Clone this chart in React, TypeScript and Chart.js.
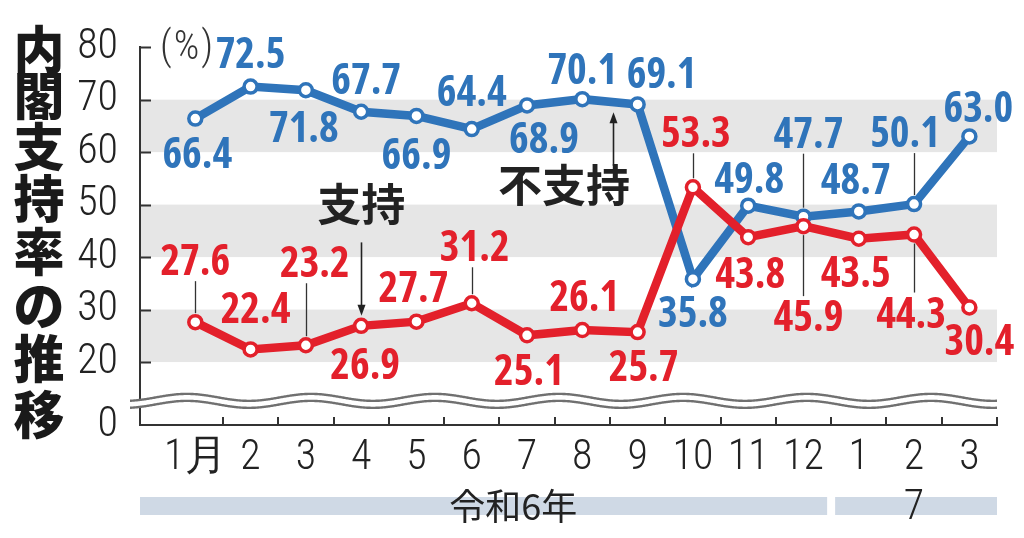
import React, { useEffect, useRef } from 'react';
import { Chart, registerables } from 'chart.js';

Chart.register(...registerables);

// ---- data ----
const categories = ['1月', '2', '3', '4', '5', '6', '7', '8', '9', '10', '11', '12', '1', '2', '3'];
const disapproval = [66.4, 72.5, 71.8, 67.7, 66.9, 64.4, 68.9, 70.1, 69.1, 35.8, 49.8, 47.7, 48.7, 50.1, 63.0];
const approval = [27.6, 22.4, 23.2, 26.9, 27.7, 31.2, 25.1, 26.1, 25.7, 53.3, 43.8, 45.9, 43.5, 44.3, 30.4];
const yTickValues = [20, 30, 40, 50, 60, 70, 80];
const yTickLabels = ['20', '30', '40', '50', '60', '70', '80'];
const yZeroLabel = '0';
const yearLabels = ['令和6年', '7'];
const titleText = '内閣支持率の推移';
const unitText = '(%)';
const seriesNames = ['支持', '不支持'];
const bandRanges: [number, number][] = [[20, 30], [40, 50], [60, 70]];

// ---- layout / style (not data) ----
const BLUE = '#2f74ba';
const RED = '#e3202b';
const INK = '#222222';
const AXISFONT = '"Roboto Condensed", "DejaVu Sans Condensed", sans-serif';
const LABELFONT = '"Open Sans", "Roboto Condensed", sans-serif';
const CJK = '"Noto Sans CJK JP", "Noto Sans CJK SC", sans-serif';
const Y_BREAK_MIN = 8; // axis break: "0" is drawn at this scale value
const X_MIN = -1;
const X_MAX = 14.5;

// label offsets in px relative to point (text centre)
const disapprovalLabelOffsets: [number, number][] = [
  [2, 34], [0, -34], [-2, 37], [5, -33], [0, 38], [0, -38], [17, 33], [0, -30],
  [24, -31], [0, 33], [1, -28], [5, -84], [-3, -32], [-9, -72], [9, -29],
];
const approvalLabelOffsets: [number, number][] = [
  [0, -62], [5, -41], [9, -83], [4, 38], [-3, -35], [3, -57], [2, 35], [2, -34],
  [6, 34], [3, -55], [2, 36], [5, 90], [-3, 33], [-3, 78], [10, 33],
];
const disapprovalLeaders = [11, 13];
const approvalLeaders = [0, 2, 5, 9, 11, 13];

const titleCenters = [50, 96, 147, 199, 252, 306, 359, 415];

function drawArrow(ctx: CanvasRenderingContext2D, x: number, y1: number, y2: number) {
  const dir = y2 > y1 ? 1 : -1;
  ctx.beginPath();
  ctx.moveTo(x, y1);
  ctx.lineTo(x, y2 - dir * 8);
  ctx.strokeStyle = INK;
  ctx.lineWidth = 1.6;
  ctx.stroke();
  ctx.beginPath();
  ctx.moveTo(x, y2);
  ctx.lineTo(x - 4, y2 - dir * 11);
  ctx.lineTo(x + 4, y2 - dir * 11);
  ctx.closePath();
  ctx.fillStyle = INK;
  ctx.fill();
}

const decorPlugin = {
  id: 'decor',
  beforeDraw(chart: any) {
    const { ctx, chartArea } = chart;
    const y = chart.scales.y;
    ctx.save();
    ctx.fillStyle = '#e6e6e6';
    for (const [lo, hi] of bandRanges) {
      const t = y.getPixelForValue(hi);
      const b = y.getPixelForValue(lo);
      ctx.fillRect(chartArea.left, t, chartArea.right - chartArea.left, b - t);
    }
    ctx.restore();
  },
  afterDraw(chart: any) {
    const { ctx, chartArea } = chart;
    const x = chart.scales.x;
    const y = chart.scales.y;
    ctx.save();

    // inner y tick marks
    ctx.strokeStyle = '#333';
    ctx.lineWidth = 2;
    for (const v of yTickValues) {
      const py = Math.round(y.getPixelForValue(v)) + 0.5;
      ctx.beginPath();
      ctx.moveTo(chartArea.left, py);
      ctx.lineTo(chartArea.left + 11, py);
      ctx.stroke();
    }
    // inner x tick marks at category boundaries
    for (let i = 0; i < categories.length; i++) {
      const px = Math.round(x.getPixelForValue(i + 0.5));
      ctx.beginPath();
      ctx.moveTo(px, chartArea.bottom);
      ctx.lineTo(px, chartArea.bottom - 8);
      ctx.stroke();
    }

    // axis break wave
    const c = y.getPixelForValue(Y_BREAK_MIN + 4.6);
    const x0 = chartArea.left - 10;
    const x1 = chartArea.right;
    const wave = (px: number) => -3.5 * Math.cos((2 * Math.PI * (px - 187)) / 124);
    ctx.beginPath();
    for (let px = x0; px <= x1; px += 1) {
      const py = c - 3.5 + wave(px);
      if (px === x0) ctx.moveTo(px, py); else ctx.lineTo(px, py);
    }
    for (let px = x1; px >= x0; px -= 1) ctx.lineTo(px, c + 3.5 + wave(px));
    ctx.closePath();
    ctx.fillStyle = '#ffffff';
    ctx.fill();
    ctx.strokeStyle = '#707070';
    ctx.lineWidth = 2.4;
    for (const off of [-3.5, 3.5]) {
      ctx.beginPath();
      for (let px = x0; px <= x1; px += 1) {
        const py = c + off + wave(px);
        if (px === x0) ctx.moveTo(px, py); else ctx.lineTo(px, py);
      }
      ctx.stroke();
    }

    // data labels with leaders
    const groups = [
      { meta: chart.getDatasetMeta(0), values: approval, offs: approvalLabelOffsets, leaders: approvalLeaders, color: RED },
      { meta: chart.getDatasetMeta(1), values: disapproval, offs: disapprovalLabelOffsets, leaders: disapprovalLeaders, color: BLUE },
    ];
    const fs = 42;
    ctx.textAlign = 'center';
    ctx.textBaseline = 'alphabetic';
    for (const g of groups) {
      g.values.forEach((v, i) => {
        const pt = g.meta.data[i];
        const [dx, dy] = g.offs[i];
        const lx = pt.x + dx;
        const ly = pt.y + dy;
        if (g.leaders.includes(i)) {
          ctx.beginPath();
          ctx.strokeStyle = '#333';
          ctx.lineWidth = 1.3;
          const lxp = Math.round(pt.x) + 0.5;
          if (dy < 0) {
            ctx.moveTo(lxp, ly + 21);
            ctx.lineTo(lxp, pt.y - 9);
          } else {
            ctx.moveTo(lxp, ly - 20);
            ctx.lineTo(lxp, pt.y + 9);
          }
          ctx.stroke();
        }
        ctx.font = `bold ${fs}px ${LABELFONT}`;
        (ctx as any).fontStretch = 'condensed';
        ctx.fillStyle = g.color;
        ctx.fillText(v.toFixed(1), lx, ly + fs * 0.357);
        (ctx as any).fontStretch = 'normal';
      });
    }

    // series annotations
    ctx.font = `bold 44px ${CJK}`;
    ctx.fillStyle = INK;
    ctx.textBaseline = 'middle';
    ctx.fillText(seriesNames[0], x.getPixelForValue(3), y.getPixelForValue(50));
    const p3 = chart.getDatasetMeta(0).data[3];
    drawArrow(ctx, Math.round(p3.x) + 0.5, y.getPixelForValue(42.8), p3.y - 10);
    ctx.fillText(seriesNames[1], x.getPixelForValue(6.67), y.getPixelForValue(53.6));
    drawArrow(ctx, Math.round(x.getPixelForValue(7.56)) + 0.5, y.getPixelForValue(57.4), y.getPixelForValue(67.6));

    // unit
    ctx.font = `300 40px ${AXISFONT}`;
    (ctx as any).letterSpacing = '2px';
    ctx.fillStyle = '#333';
    ctx.textBaseline = 'alphabetic';
    ctx.textAlign = 'left';
    ctx.fillText(unitText, chartArea.left + 20, y.getPixelForValue(80) + 12);
    (ctx as any).letterSpacing = '0px';

    // title (vertical)
    ctx.font = `900 51px ${CJK}`;
    ctx.fillStyle = '#1a1a1a';
    ctx.textAlign = 'center';
    ctx.textBaseline = 'middle';
    Array.from(titleText).forEach((ch, i) => ctx.fillText(ch, 39, titleCenters[i]));

    // year bars
    const split = x.getPixelForValue(11.5);
    ctx.fillStyle = '#cfd9e5';
    ctx.fillRect(chartArea.left, 497, split - 4 - chartArea.left, 18);
    ctx.fillRect(split + 4, 497, chartArea.right - split - 4, 18);
    ctx.fillStyle = INK;
    ctx.font = `400 36px ${CJK}`;
    ctx.fillText(yearLabels[0], x.getPixelForValue(5.75), 506);
    ctx.font = `300 42px ${AXISFONT}`;
    ctx.fillText(yearLabels[1], x.getPixelForValue(13), 508);

    ctx.restore();
  },
};

export default function App() {
  const ref = useRef<HTMLCanvasElement | null>(null);
  useEffect(() => {
    if (!ref.current) return;
    const lineStyle = (color: string) => ({
      borderColor: color,
      backgroundColor: color,
      pointBackgroundColor: '#ffffff',
      pointBorderColor: color,
      borderWidth: 8.5,
      pointRadius: 6.5,
      pointBorderWidth: 3.5,
      tension: 0,
    });
    const chart = new Chart(ref.current, {
      type: 'line',
      data: {
        datasets: [
          { label: seriesNames[0], data: approval.map((v, i) => ({ x: i, y: v })), ...lineStyle(RED) },
          { label: seriesNames[1], data: disapproval.map((v, i) => ({ x: i, y: v })), ...lineStyle(BLUE) },
        ],
      },
      options: {
        responsive: false,
        animation: false,
        layout: { padding: { top: 36, right: 27, left: 0, bottom: 0 } },
        plugins: { legend: { display: false }, tooltip: { enabled: false } },
        scales: {
          x: {
            type: 'linear',
            min: X_MIN,
            max: X_MAX,
            afterBuildTicks: (s: any) => {
              s.ticks = categories.map((_, i) => ({ value: i }));
            },
            afterFit: (s: any) => {
              s.height = 113;
            },
            grid: { display: false, drawTicks: false },
            border: { display: true, color: '#333', width: 2 },
            ticks: {
              autoSkip: false,
              maxRotation: 0,
              padding: 8,
              color: INK,
              font: { family: AXISFONT, size: 42, weight: '300' },
              callback: (v: any) => categories[Math.round(Number(v))] ?? '',
            },
          },
          y: {
            type: 'linear',
            min: Y_BREAK_MIN,
            max: 80,
            afterBuildTicks: (s: any) => {
              s.ticks = [Y_BREAK_MIN, ...yTickValues].map((value) => ({ value }));
            },
            afterFit: (s: any) => {
              s.width = 140;
            },
            grid: { display: false, drawTicks: false },
            border: { display: true, color: '#333', width: 2 },
            ticks: {
              padding: 22,
              color: INK,
              font: { family: AXISFONT, size: 42, weight: '300' },
              callback: (v: any) => {
                const n = Number(v);
                if (n === Y_BREAK_MIN) return yZeroLabel;
                const k = yTickValues.indexOf(n);
                return k >= 0 ? yTickLabels[k] : '';
              },
            },
          },
        },
      },
      plugins: [decorPlugin],
    } as any);
    return () => chart.destroy();
  }, []);
  return (
    <div style={{ position: 'absolute', left: 0, top: 0, width: 1024, height: 538, background: '#fff', overflow: 'hidden' }}>
      <canvas ref={ref} width={1024} height={538} style={{ display: 'block' }} />
    </div>
  );
}
